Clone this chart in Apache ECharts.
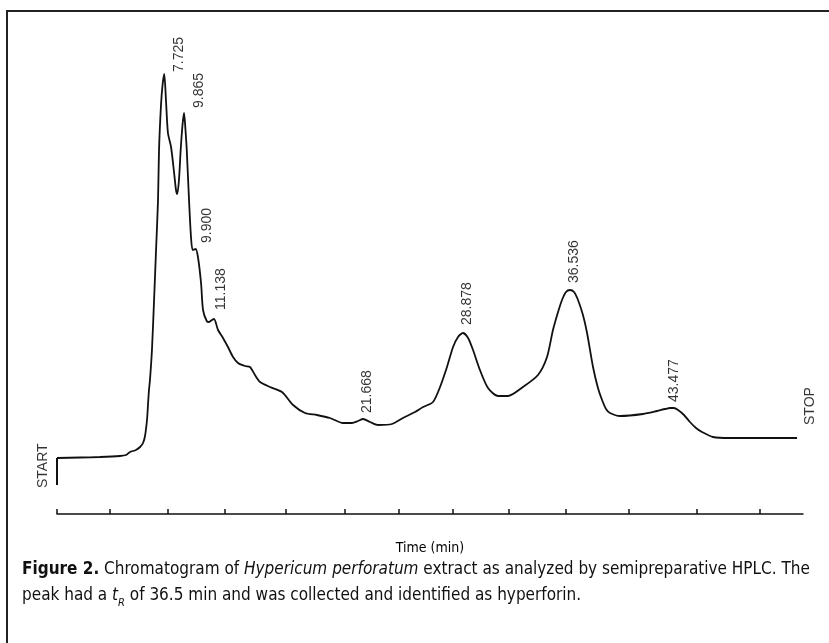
<!DOCTYPE html>
<html><head><meta charset="utf-8">
<script src="https://cdn.jsdelivr.net/npm/echarts@6/dist/echarts.min.js"></script>
<style>html,body{margin:0;padding:0;background:#fff}#c{width:829px;height:643px}</style>
</head><body><div id="c"></div>
<script>
// START marker stub (time in min, detector signal in arbitrary units)
const stubTimes = [0, 0];
const stubValues = [15, 42];

// Chromatogram trace
const times = [0.00,1.63,3.04,4.45,4.88,5.16,5.58,5.87,6.08,6.22,6.36,6.43,6.50,6.57,6.71,6.86,7.00,7.14,7.21,7.35,7.46,7.58,7.70,7.84,8.06,8.27,8.41,8.50,8.62,8.74,8.87,8.98,9.08,9.17,9.33,9.47,9.59,9.80,9.96,10.18,10.32,10.58,10.74,10.95,11.10,11.38,11.73,12.08,12.44,12.79,13.29,13.64,13.99,14.35,15.05,15.90,16.68,17.53,18.37,19.29,20.21,20.85,21.27,21.63,22.12,22.69,23.67,24.45,25.30,25.87,26.57,27.07,27.56,27.99,28.34,28.69,29.05,29.40,29.89,30.46,31.17,31.87,32.93,33.99,34.63,35.05,35.41,35.69,35.97,36.25,36.54,36.82,37.17,37.46,37.88,38.23,38.52,38.80,39.08,39.79,41.41,42.40,42.97,43.32,43.60,43.89,44.31,44.73,45.16,45.58,46.36,47.56,49.68,52.30];
const signal = [42,42.5,43,44,45,48,50,53,57,64,80,95,110,120,150,200,250,300,350,395,415,426,400,367,353,328,310,306,320,350,375,387,370,350,300,263,250,251,243,217,190,179,178,180,181,170,162,153,143,137,134,133,125,118,113,108,95,87,85,82,77,77,79,81,78,75,76,82,88,93,98,113,133,153,163,167,162,150,130,112,104,104,113,125,143,170,188,200,208,210,208,200,185,167,133,112,100,91,87,84,86,89,91,92,92,90,85,78,72,68,63,62,62,62];

// Labelled peaks
const peakNames = ['7.725','9.865','9.900','11.138','21.668','28.878','36.536','43.477'];
const peakTimes = [7.58, 8.98, 9.80, 11.10, 21.63, 28.69, 36.25, 43.46];
const peakValues = [426, 387, 251, 181, 81, 167, 210, 92];

// Axis tick positions (min)
const tickValues = [0, 3.75, 7.84, 11.87, 16.18, 20.35, 24.17, 27.99, 31.94, 35.97, 40.42, 45.23, 49.68];
const axisMax = 52.72;

// ---- styling (not data) ----
const peakLabelOffsets = [[15,-2],[15,-5],[11,-6],[7,-9],[4,-6],[4,-8],[4,-7],[2,-6]];
const ink = '#111';
const numFont = '"Liberation Sans", Arial, Helvetica, sans-serif';
const capFont = '"Liberation Sans Narrow", "DejaVu Sans Condensed", "Liberation Sans", sans-serif';

function rotOffset(o){ return [-o[1], o[0]]; }

const chart = echarts.init(document.getElementById('c'), null, {renderer:'canvas'});
const option = {
  animation: false,
  backgroundColor: '#fff',
  grid: {left: 57, right: 26, top: 60, bottom: 143, containLabel: false},
  xAxis: {
    type: 'value', min: 0, max: axisMax, offset: 14,
    name: 'Time (min)', nameLocation: 'middle', nameGap: 27,
    nameTextStyle: {fontFamily: capFont, fontSize: 14, color: '#000'},
    axisLine: {show: true, onZero: false, lineStyle: {color: ink, width: 1.5}},
    axisTick: {show: true, inside: true, length: 5, customValues: tickValues, lineStyle: {color: ink, width: 1.5}},
    axisLabel: {show: false},
    splitLine: {show: false}
  },
  yAxis: {type: 'value', min: 0, max: 440, show: false},
  series: [
    {
      type: 'line', data: stubTimes.map((t,i)=>[t, stubValues[i]]),
      symbol: 'none', lineStyle: {color: ink, width: 2}, silent: true
    },
    {
      type: 'line', data: times.map((t,i)=>[t, signal[i]]),
      symbol: 'none', smooth: 0.25, lineStyle: {color: ink, width: 1.8}, silent: true
    },
    {
      type: 'scatter', symbolSize: 0, silent: true,
      data: peakNames.map((n,i)=>({
        value: [peakTimes[i], peakValues[i]],
        label: {offset: rotOffset(peakLabelOffsets[i])}
      })),
      label: {
        show: true, position: 'inside', rotate: 90, align: 'left', verticalAlign: 'middle',
        formatter: p => peakNames[p.dataIndex],
        fontFamily: numFont, fontSize: 14, color: '#000'
      }
    },
    {
      type: 'scatter', symbolSize: 0, silent: true,
      data: [
        {value: [stubTimes[0], stubValues[0]], name: 'START', label: {offset: rotOffset([-14, 3])}},
        {value: [times[times.length-1], signal[signal.length-1]], name: 'STOP', label: {offset: rotOffset([13, -13])}}
      ],
      label: {
        show: true, position: 'inside', rotate: 90, align: 'left', verticalAlign: 'middle',
        formatter: p => p.name,
        fontFamily: numFont, fontSize: 14, color: '#000'
      }
    }
  ],
  graphic: [
    {type: 'polyline', shape: {points: [[7,643],[7,11],[829,11]]}, style: {stroke: '#222', lineWidth: 2, fill: null}, silent: true},
    {
      type: 'text', left: 22, top: 557, silent: true,
      style: {
        text: '{b|Figure 2.} Chromatogram of {i|Hypericum perforatum} extract as analyzed by semipreparative HPLC. The\npeak had a {i|t}{sub|R} of 36.5 min and was collected and identified as hyperforin.',
        fontFamily: capFont, fontSize: 17, fill: '#111', lineHeight: 26,
        rich: {
          b: {fontFamily: capFont, fontSize: 17, fontWeight: 'bold', fill: '#111', lineHeight: 26},
          i: {fontFamily: capFont, fontSize: 17, fontStyle: 'italic', fill: '#111', lineHeight: 26},
          sub: {fontFamily: capFont, fontSize: 11, fontStyle: 'italic', fill: '#111', lineHeight: 14, verticalAlign: 'bottom'}
        }
      }
    }
  ]
};
chart.setOption(option);
</script>
</body></html>
